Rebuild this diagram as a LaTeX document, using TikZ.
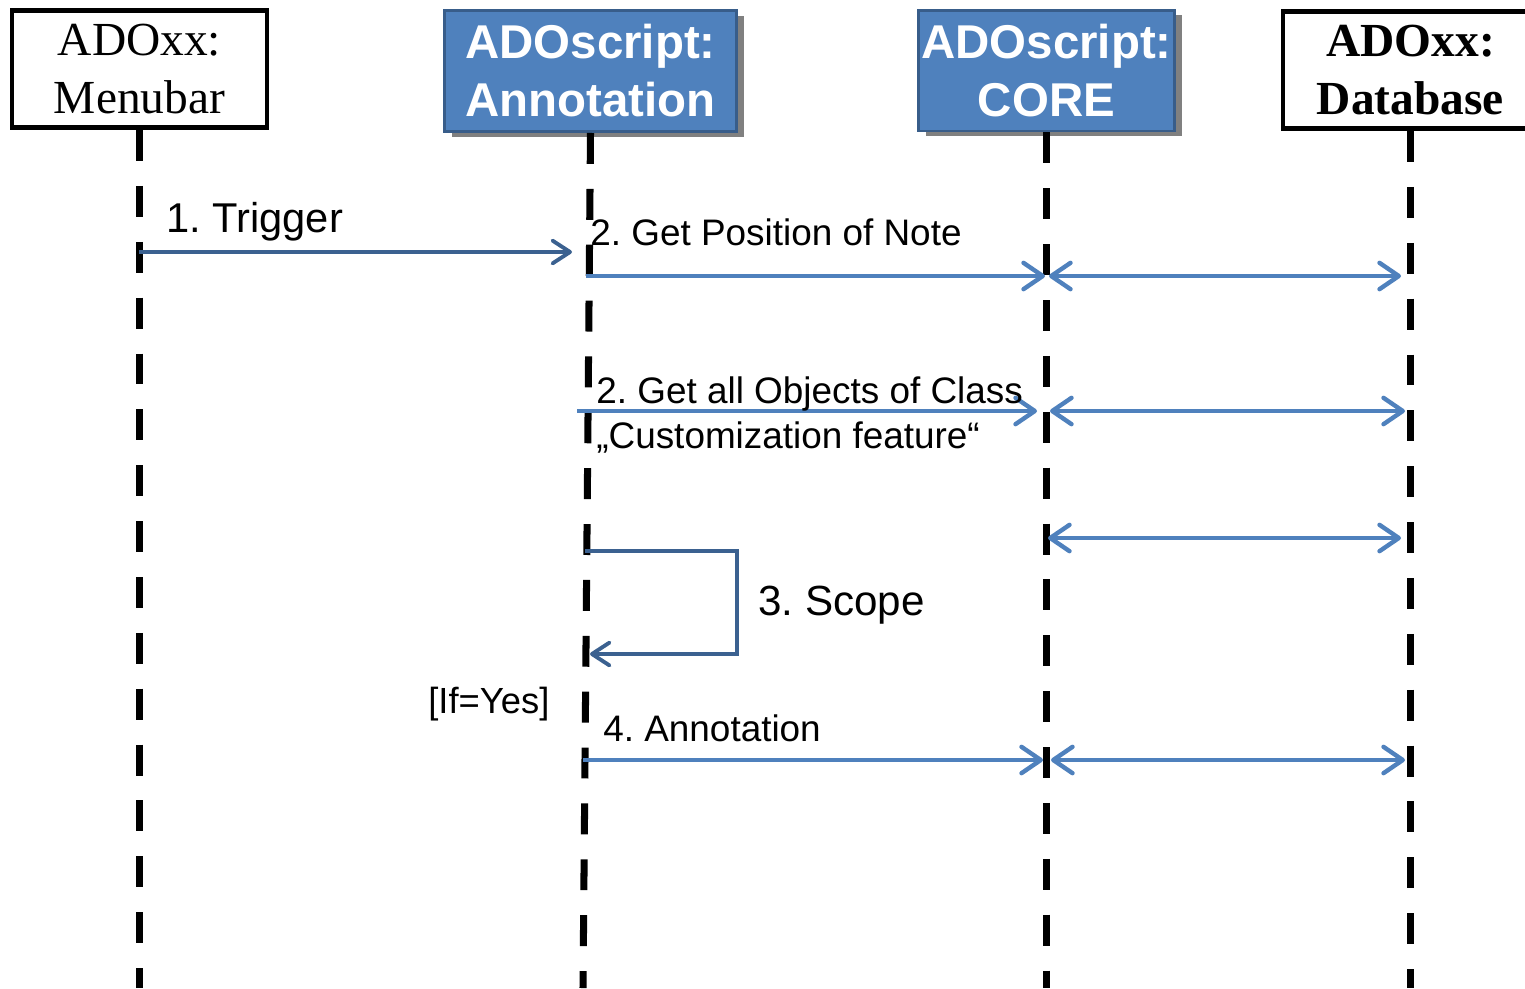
\documentclass[tikz,border=0pt]{standalone}
\usepackage{fontspec}
\setmainfont{Liberation Serif}
\newfontfamily\arialfont{Liberation Sans}
\usetikzlibrary{arrows.meta,shadows}
\definecolor{boxblue}{HTML}{4F81BD}
\definecolor{boxedge}{HTML}{385D8A}
\definecolor{msgdark}{HTML}{3B6190}
\frenchspacing

\begin{document}
\begin{tikzpicture}[x=0.02cm,y=-0.02cm,
    adoxx/.style={draw=black,line width=2.6pt,fill=white,align=center,inner sep=0pt,
        minimum width=5.1cm,minimum height=2.35cm,font=\fontsize{27}{33}\selectfont},
    script/.style={draw=boxedge,line width=1.7pt,fill=boxblue,text=white,align=center,inner sep=0pt,
        minimum height=2.42cm,font=\arialfont\bfseries\fontsize{27}{33}\selectfont,
        drop shadow={shadow xshift=4pt,shadow yshift=-3pt,fill=black!50,opacity=1}},
    lifeline/.style={line width=4pt,dash pattern=on 17.6pt off 14.2pt},
    callmsg/.style={draw=msgdark,line width=2.2pt,-{Straight Barb[length=10pt,width=13pt,round]}},
    datamsg/.style={draw=boxblue,line width=2.5pt,-{Straight Barb[length=11pt,width=15pt,round]}},
    dbmsg/.style={datamsg,{Straight Barb[length=11pt,width=15pt,round]}-{Straight Barb[length=11pt,width=15pt,round]}},
    lbl/.style={anchor=base west,inner sep=0pt,font=\arialfont\fontsize{21}{25}\selectfont}]
\useasboundingbox (0,0) rectangle (1525,988);

\node[adoxx] (menubar) at (139.5,69) {ADOxx:\\Menubar};
\node[script,minimum width=5.84cm] (annotation) at (590.5,71) {ADOscript:\\Annotation};
\node[script,minimum width=5.12cm] (core) at (1046.5,70.5) {ADOscript:\\CORE};
\node[adoxx,font=\bfseries\fontsize{27}{33}\selectfont] (database) at (1410.5,70) {ADOxx:\\Database};

\coordinate (bottom) at (0,988);
\coordinate (annoend) at (583,988);
\draw[lifeline] (menubar.south) -- (menubar.south |- bottom);
\draw[lifeline] (annotation.south) -- (annoend);
\draw[lifeline] (core.south) -- (core.south |- bottom);
\draw[lifeline] (database.south) -- (database.south |- bottom);

% 1. Trigger
\coordinate (trig1) at (139,252);
\coordinate (trig2) at (572,252);
\draw[callmsg] (trig1) -- (trig2);
\node[lbl,font=\arialfont\fontsize{23.7}{28}\selectfont] (trigger) at (166,232) {1. Trigger};

% 2. position of note
\coordinate (pos1) at (586,276);
\coordinate (pos2) at (1045,276);
\coordinate (pos3) at (1049,276);
\coordinate (pos4) at (1401,276);
\draw[datamsg] (pos1) -- (pos2);
\draw[dbmsg] (pos3) -- (pos4);
\node[lbl] (position) at (590,245) {2. Get Position of Note};

% 2. objects of class
\coordinate (obj1) at (577,411);
\coordinate (obj2) at (1037,411);
\coordinate (obj3) at (1050,411);
\coordinate (obj4) at (1405,411);
\draw[datamsg] (obj1) -- (obj2);
\draw[dbmsg] (obj3) -- (obj4);
\node[lbl] (objects) at (596,403) {2. Get all Objects of Class};
\node[lbl] (feature) at (596,448) {„Customization feature“};

\coordinate (db1) at (1048,538);
\coordinate (db2) at (1401,538);
\draw[dbmsg] (db1) -- (db2);

% 3. Scope
\coordinate (sc1) at (585,551);
\coordinate (sccorner) at (737,654);
\coordinate (sc2) at (590,654);
\draw[callmsg] (sc1) -| (sccorner) -- (sc2);
\node[lbl,font=\arialfont\fontsize{24}{28}\selectfont] (scope) at (758,615) {3. Scope};

% 4. Annotation
\node[lbl,font=\arialfont\fontsize{20.7}{25}\selectfont] (ifyes) at (428,713) {[If=Yes]};
\coordinate (ann1) at (583,760);
\coordinate (ann2) at (1043,760);
\coordinate (ann3) at (1051,760);
\coordinate (ann4) at (1405,760);
\draw[datamsg] (ann1) -- (ann2);
\draw[dbmsg] (ann3) -- (ann4);
\node[lbl] (annlabel) at (603,741) {4. Annotation};
\end{tikzpicture}
\end{document}
